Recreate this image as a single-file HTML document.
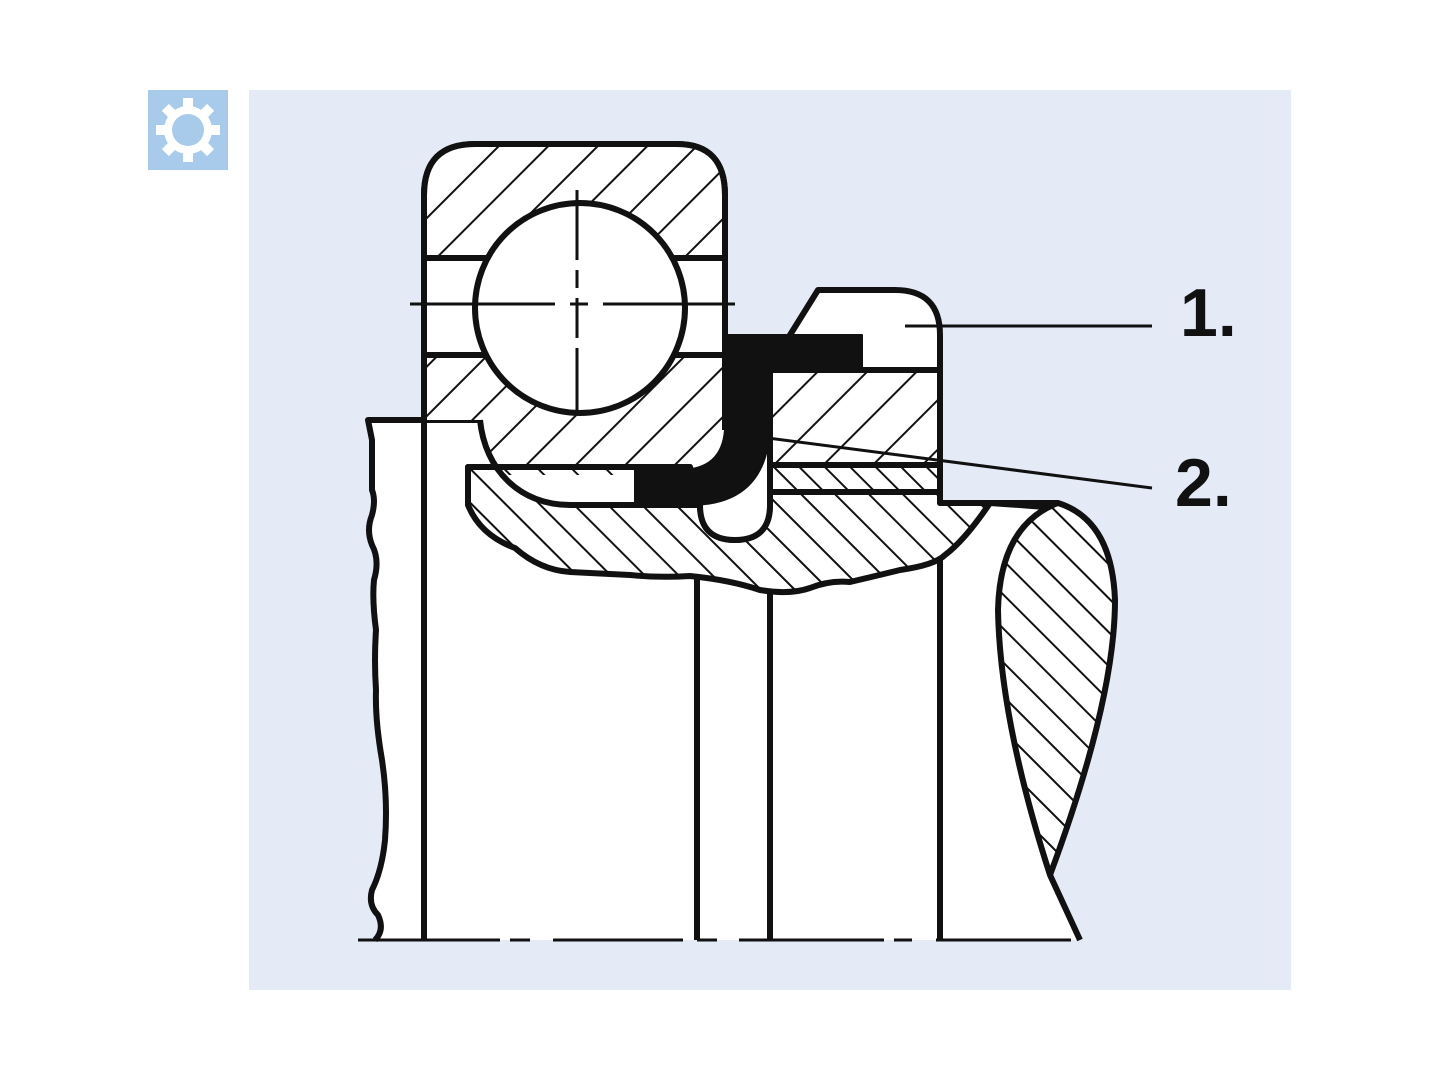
<!DOCTYPE html>
<html><head><meta charset="utf-8"><style>
html,body{margin:0;padding:0;background:#fff;}
svg{display:block;}
text{font-family:"Liberation Sans",sans-serif;font-weight:bold;}
</style></head><body>
<svg width="1440" height="1080" viewBox="0 0 1440 1080" xmlns="http://www.w3.org/2000/svg">
<defs>
<pattern id="hr" width="35" height="35" patternUnits="userSpaceOnUse" patternTransform="rotate(45)">
<rect width="35" height="35" fill="#fff"/><line x1="0" y1="0" x2="0" y2="35" stroke="#111" stroke-width="4"/></pattern>
<pattern id="hl" width="24" height="24" patternUnits="userSpaceOnUse" patternTransform="rotate(-45)">
<rect width="24" height="24" fill="#fff"/><line x1="0" y1="0" x2="0" y2="24" stroke="#111" stroke-width="4"/></pattern>
<pattern id="hl2" width="18" height="18" patternUnits="userSpaceOnUse" patternTransform="rotate(-45)">
<rect width="18" height="18" fill="#fff"/><line x1="0" y1="0" x2="0" y2="18" stroke="#111" stroke-width="4"/></pattern>
</defs>
<rect width="1440" height="1080" fill="#fff"/>
<rect x="249" y="90" width="1042" height="900" fill="#e4ebf7"/>
<!-- icon -->
<rect x="148" y="90" width="80" height="80" fill="#a8cbeb"/>
<g transform="translate(188,130)" fill="#fff">
<circle r="24"/>
<rect x="-5" y="-32" width="10" height="12"/><rect x="-5" y="20" width="10" height="12"/>
<rect x="-32" y="-5" width="12" height="10"/><rect x="20" y="-5" width="12" height="10"/>
<g transform="rotate(45)"><rect x="-5" y="-32" width="10" height="12"/><rect x="-5" y="20" width="10" height="12"/>
<rect x="-32" y="-5" width="12" height="10"/><rect x="20" y="-5" width="12" height="10"/></g>
<circle r="16" fill="#a8cbeb"/>
</g>

<!-- white base region -->
<path d="M368,420 H424 V195 Q424,144 475,144 H677 Q725,144 725,195 V335 H790 L818,290 H895 Q940,290 940,335 V503 H1058 Q1112,520 1115,600 Q1115,700 1050,875 L1080,940 H375 Q385,930 378,915 Q368,905 372,890 Q382,870 385,840 Q388,800 382,760 Q375,720 376,690 Q374,660 376,630 Q372,600 374,580 Q380,560 372,545 Q366,530 372,515 Q376,500 372,490 Q372,460 372,440 Z" fill="#fff"/>

<g stroke="#111" stroke-width="6" stroke-linejoin="round" fill="none">
<path d="M480,420 H368 L372,440 Q372,460 372,490 Q376,500 372,515 Q366,530 372,545 Q380,560 374,580 Q372,600 376,630 Q374,660 376,690 Q375,720 382,760 Q388,800 385,840 Q382,870 372,890 Q368,905 378,915 Q385,930 375,940"/>
<path d="M424,258 V195 Q424,144 475,144 H677 Q725,144 725,195 V258 Z" fill="url(#hr)"/>
<path d="M424,355 H722 V430 Q715,462 680,467 H497 Q482,445 480,420 H424 Z" fill="url(#hr)" stroke="none"/>
<path d="M424,420 V195 Q424,144 475,144 H677 Q725,144 725,195 V430"/>
<line x1="424" y1="258" x2="722" y2="258"/>
<line x1="424" y1="355" x2="722" y2="355"/>
<path d="M468,467 H690 L700,505 Q700,540 735,540 Q770,540 770,505 V465 H940 V503 H990 Q965,540 945,555 Q935,565 900,570 Q880,575 850,582 Q830,580 810,588 Q790,595 760,590 Q730,580 690,576 Q660,578 630,575 L570,572 Q540,570 515,548 Q480,535 468,505 Z" fill="url(#hl)"/>
<rect x="770" y="465" width="170" height="27" fill="url(#hl2)"/>
<path d="M480,420 C485,470 520,505 570,505 H700 V475 H497 Z" fill="#fff" stroke="none"/>
<path d="M480,420 C485,470 520,505 570,505 H700"/>
<path d="M468,505 V467 H690"/>
<path d="M790,335 L818,290 H895 Q940,290 940,335 V370 H770 Z" fill="#fff"/>
<path d="M770,370 H940 V465 H770 Z" fill="url(#hr)"/>
<line x1="770" y1="492" x2="940" y2="492"/>
<path d="M940,335 V503 H1058"/>
<path d="M700,505 Q700,540 735,540 Q770,540 770,505 V430" fill="#fff"/>
<path d="M725,335 H862 V370 H770 V420 Q770,505 690,505 H635 V470 H680 Q722,470 725,430 Z" fill="#111" stroke-width="2"/>
<circle cx="580" cy="308" r="105" fill="#fff"/>
<line x1="424" y1="420" x2="424" y2="940"/>
<line x1="697" y1="578" x2="697" y2="940"/>
<line x1="770" y1="590" x2="770" y2="940"/>
<line x1="940" y1="558" x2="940" y2="940"/>
<path d="M1058,503 Q1112,520 1115,600 Q1115,700 1050,875 Q1000,720 998,610 Q1000,525 1058,503 Z" fill="url(#hl)"/>
<path d="M1050,875 L1080,940"/>
<path d="M990,503 Q1020,505 1045,507"/>
</g>
<g stroke="#111" stroke-width="3" fill="none">
<line x1="577" y1="190" x2="577" y2="415" stroke-dasharray="70,10,18,10,40,10"/>
<line x1="410" y1="304" x2="735" y2="304" stroke-dasharray="145,15,18,15,200"/>
<line x1="905" y1="326" x2="1152" y2="326"/>
<line x1="760" y1="437" x2="1152" y2="488"/>
<line x1="358" y1="940" x2="1075" y2="940" stroke-dasharray="142,10,20,23,130,14,20,22,145,10,18,24,135"/>
</g>
<text x="1180" y="336" font-size="68" fill="#111">1.</text>
<text x="1175" y="506" font-size="68" fill="#111">2.</text>
</svg>
</body></html>
